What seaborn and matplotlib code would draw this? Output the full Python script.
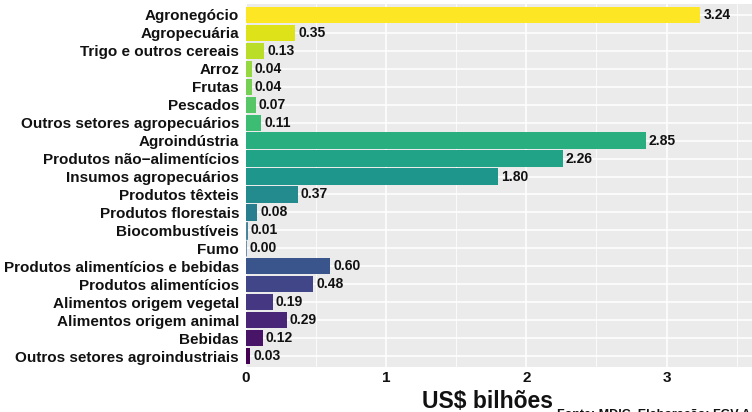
import pandas as pd
import matplotlib.pyplot as plt
import numpy as np
import seaborn as sns

# categories from top to bottom, values in US$ bilhoes
categorias = ['Agronegócio', 'Agropecuária', 'Trigo e outros cereais', 'Arroz', 'Frutas',
              'Pescados', 'Outros setores agropecuários', 'Agroindústria',
              'Produtos não−alimentícios', 'Insumos agropecuários', 'Produtos têxteis',
              'Produtos florestais', 'Biocombustíveis', 'Fumo',
              'Produtos alimentícios e bebidas', 'Produtos alimentícios',
              'Alimentos origem vegetal', 'Alimentos origem animal', 'Bebidas',
              'Outros setores agroindustriais']
valores = [3.24, 0.35, 0.13, 0.04, 0.04, 0.07, 0.11, 2.85, 2.26, 1.80, 0.37, 0.08,
           0.01, 0.00, 0.60, 0.48, 0.19, 0.29, 0.12, 0.03]
x_ticks = [0, 1, 2, 3]

df = pd.DataFrame({'categoria': categorias, 'valor': valores})

sns.set_theme(style='darkgrid')
plt.rcParams['font.family'] = ['Liberation Sans', 'DejaVu Sans']
plt.rcParams['font.weight'] = 'bold'

fig = plt.figure(figsize=(7.52, 4.12), dpi=100)
ax = fig.add_axes([246 / 752, 1 - 367 / 412, 1 - 246 / 752 + 0.002, 363 / 412])
ax.set_facecolor('#EBEBEB')

# viridis with both ends included, yellow at the top
cores = [tuple(c[:3]) for c in plt.get_cmap('viridis')(np.linspace(0, 1, len(categorias)))][::-1]
sns.barplot(data=df, x='valor', y='categoria', hue='categoria', palette=cores,
            order=categorias, width=0.9, legend=False, ax=ax, saturation=1,
            linewidth=0)
# hairline outline on (near) zero bars so they still show as a line
for p in ax.patches:
    if p.get_width() < 0.02:
        p.set_edgecolor(p.get_facecolor())
        p.set_linewidth(0.5)

for i, v in enumerate(valores):
    ax.text(v + 0.022, i, f'{v:.2f}', va='center', ha='left', fontsize=10,
            fontweight='bold', color='#111111')

ax.set_xlim(0, 3.62)
ax.set_ylim(len(categorias) - 0.4, -0.6)
ax.set_xticks(x_ticks)
ax.set_xticks([0.5, 1.5, 2.5, 3.5], minor=True)
ax.grid(True, which='major', color='white', linewidth=1.1)
ax.grid(True, which='minor', axis='x', color='white', linewidth=0.55)
ax.grid(False, which='minor', axis='y')
ax.set_axisbelow(True)
ax.tick_params(axis='both', which='major', length=3, width=0.8, color='#333333',
               labelsize=11, pad=2)
ax.tick_params(axis='x', which='minor', length=0)
ax.tick_params(axis='x', labelsize=11, pad=0)
for lab in ax.get_yticklabels() + ax.get_xticklabels():
    lab.set_fontweight('bold')
    lab.set_color('#111111')
for s in ax.spines.values():
    s.set_visible(False)

ax.set_ylabel('')
ax.set_xlabel('')
fig.text(487 / 752, 1 - 402 / 412, 'US$ bilhões', ha='center', va='center',
         fontsize=16.5, fontweight='bold', color='#111111')
fig.text(557 / 752, 1 - 409 / 412, 'Fonte: MDIC. Elaboração: FGV Agro', ha='left',
         va='top', fontsize=9, fontweight='bold', color='#111111')

fig.savefig('out.png', dpi=100)
